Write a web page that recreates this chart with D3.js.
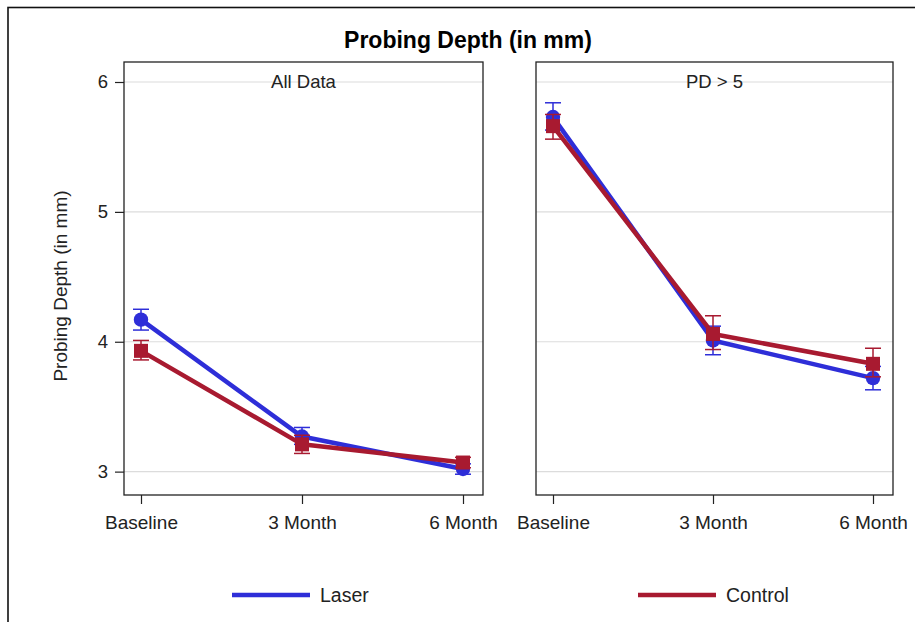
<!DOCTYPE html>
<html>
<head>
<meta charset="utf-8">
<script src="https://cdn.jsdelivr.net/npm/d3@7"></script>
<style>
  body { margin: 0; background: #fff; overflow: hidden; }
  svg text { font-family: "Liberation Sans", Arial, sans-serif; fill: #222; }
</style>
</head>
<body>
<div id="chart"></div>
<script>
// categories and panels
var visits = ["Baseline", "3 Month", "6 Month"];
var panels = ["All Data", "PD > 5"];
var yTicks = [3, 4, 5, 6];

// means (mm), one array per panel and group
var laserAll = [4.17, 3.27, 3.02];
var controlAll = [3.93, 3.21, 3.07];
var laserDeep = [5.73, 4.01, 3.72];
var controlDeep = [5.66, 4.06, 3.83];

// error bar limits [low, high]
var laserAllErr = [[4.09, 4.25], [3.21, 3.34], [2.98, 3.06]];
var controlAllErr = [[3.86, 4.01], [3.14, 3.28], [3.03, 3.11]];
var laserDeepErr = [[5.63, 5.84], [3.90, 4.12], [3.63, 3.81]];
var controlDeepErr = [[5.56, 5.75], [3.94, 4.20], [3.73, 3.95]];

var colors = { Laser: "#2e2ed8", Control: "#a81a30" };

var panelData = [
    { label: panels[0], series: [
        { name: "Laser", values: laserAll, err: laserAllErr },
        { name: "Control", values: controlAll, err: controlAllErr } ] },
    { label: panels[1], series: [
        { name: "Laser", values: laserDeep, err: laserDeepErr },
        { name: "Control", values: controlDeep, err: controlDeepErr } ] }
];

var W = 915, H = 622;
var plotTop = 62, plotBottom = 495;
var panelX = [[124, 483], [536, 893]];

var svg = d3.select("#chart").append("svg")
    .attr("width", W).attr("height", H);

// outer frame (runs off the right and bottom edges)
svg.append("rect")
    .attr("x", 8).attr("y", 7.5)
    .attr("width", 920).attr("height", 640)
    .attr("fill", "none").attr("stroke", "#111").attr("stroke-width", 1.6);

svg.append("text")
    .attr("x", 468).attr("y", 48)
    .attr("text-anchor", "middle")
    .attr("font-size", "23px").attr("font-weight", "bold")
    .style("fill", "#000")
    .text("Probing Depth (in mm)");

var yScale = d3.scaleLinear().domain([2.82, 6.154]).range([plotBottom, plotTop]);

svg.append("text")
    .attr("transform", "translate(67," + 286 + ") rotate(-90)")
    .attr("text-anchor", "middle")
    .attr("font-size", "19px")
    .text("Probing Depth (in mm)");

panelData.forEach(function (p, i) {
    var x0 = panelX[i][0], x1 = panelX[i][1];
    var xScale = d3.scalePoint().domain(visits).range([x0 + 17, x1 - 20]);
    var g = svg.append("g");

    // gridlines
    g.selectAll(".grid").data(yTicks).enter().append("line")
        .attr("x1", x0).attr("x2", x1)
        .attr("y1", function (d) { return yScale(d); })
        .attr("y2", function (d) { return yScale(d); })
        .attr("stroke", "#dcdcdc").attr("stroke-width", 1.2);

    // y axis only on the first panel
    if (i === 0) {
        var yAxis = d3.axisLeft(yScale).tickValues(yTicks).tickSize(9).tickPadding(7)
            .tickFormat(d3.format("d"));
        var ya = g.append("g").attr("transform", "translate(" + x0 + ",0)").call(yAxis);
        ya.select(".domain").remove();
        ya.selectAll("text").attr("font-size", "18.5px").style("font-family", "Liberation Sans, Arial");
        ya.selectAll("line").attr("stroke", "#222").attr("stroke-width", 1.2);
    }

    var xAxis = d3.axisBottom(xScale).tickSize(9).tickPadding(12);
    var xa = g.append("g").attr("transform", "translate(0," + plotBottom + ")").call(xAxis);
    xa.select(".domain").remove();
    xa.selectAll("text").attr("font-size", "19px").style("font-family", "Liberation Sans, Arial");
    xa.selectAll("line").attr("stroke", "#222").attr("stroke-width", 1.2);

    // panel border
    g.append("rect")
        .attr("x", x0).attr("y", plotTop)
        .attr("width", x1 - x0).attr("height", plotBottom - plotTop)
        .attr("fill", "none").attr("stroke", "#222").attr("stroke-width", 1.3);

    g.append("text")
        .attr("x", (x0 + x1) / 2).attr("y", 88)
        .attr("text-anchor", "middle").attr("font-size", "18.5px")
        .text(p.label);

    var line = d3.line()
        .x(function (d, j) { return xScale(visits[j]); })
        .y(function (d) { return yScale(d); });

    p.series.forEach(function (s) {
        var c = colors[s.name];
        var sg = g.append("g");

        // error bars
        s.err.forEach(function (e, j) {
            var cx = xScale(visits[j]);
            sg.append("line")
                .attr("x1", cx).attr("x2", cx)
                .attr("y1", yScale(e[0])).attr("y2", yScale(e[1]))
                .attr("stroke", c).attr("stroke-width", 1.5);
            [e[0], e[1]].forEach(function (v) {
                sg.append("line")
                    .attr("x1", cx - 8).attr("x2", cx + 8)
                    .attr("y1", yScale(v)).attr("y2", yScale(v))
                    .attr("stroke", c).attr("stroke-width", 1.5);
            });
        });

        sg.append("path")
            .datum(s.values)
            .attr("d", line)
            .attr("fill", "none")
            .attr("stroke", c).attr("stroke-width", 4.5)
            .attr("stroke-linejoin", "round");

        if (s.name === "Laser") {
            sg.selectAll(".m").data(s.values).enter().append("circle")
                .attr("cx", function (d, j) { return xScale(visits[j]); })
                .attr("cy", function (d) { return yScale(d); })
                .attr("r", 7.2).attr("fill", c);
        } else {
            sg.selectAll(".m").data(s.values).enter().append("rect")
                .attr("x", function (d, j) { return xScale(visits[j]) - 7; })
                .attr("y", function (d) { return yScale(d) - 7; })
                .attr("width", 14).attr("height", 14).attr("fill", c);
        }
    });
});

// legend
var legend = [
    { name: "Laser", x: 232 },
    { name: "Control", x: 638 }
];
legend.forEach(function (l) {
    svg.append("line")
        .attr("x1", l.x).attr("x2", l.x + 78)
        .attr("y1", 595).attr("y2", 595)
        .attr("stroke", colors[l.name]).attr("stroke-width", 4.5);
    svg.append("text")
        .attr("x", l.x + 88).attr("y", 602)
        .attr("font-size", "19.5px")
        .text(l.name);
});
</script>
</body>
</html>
